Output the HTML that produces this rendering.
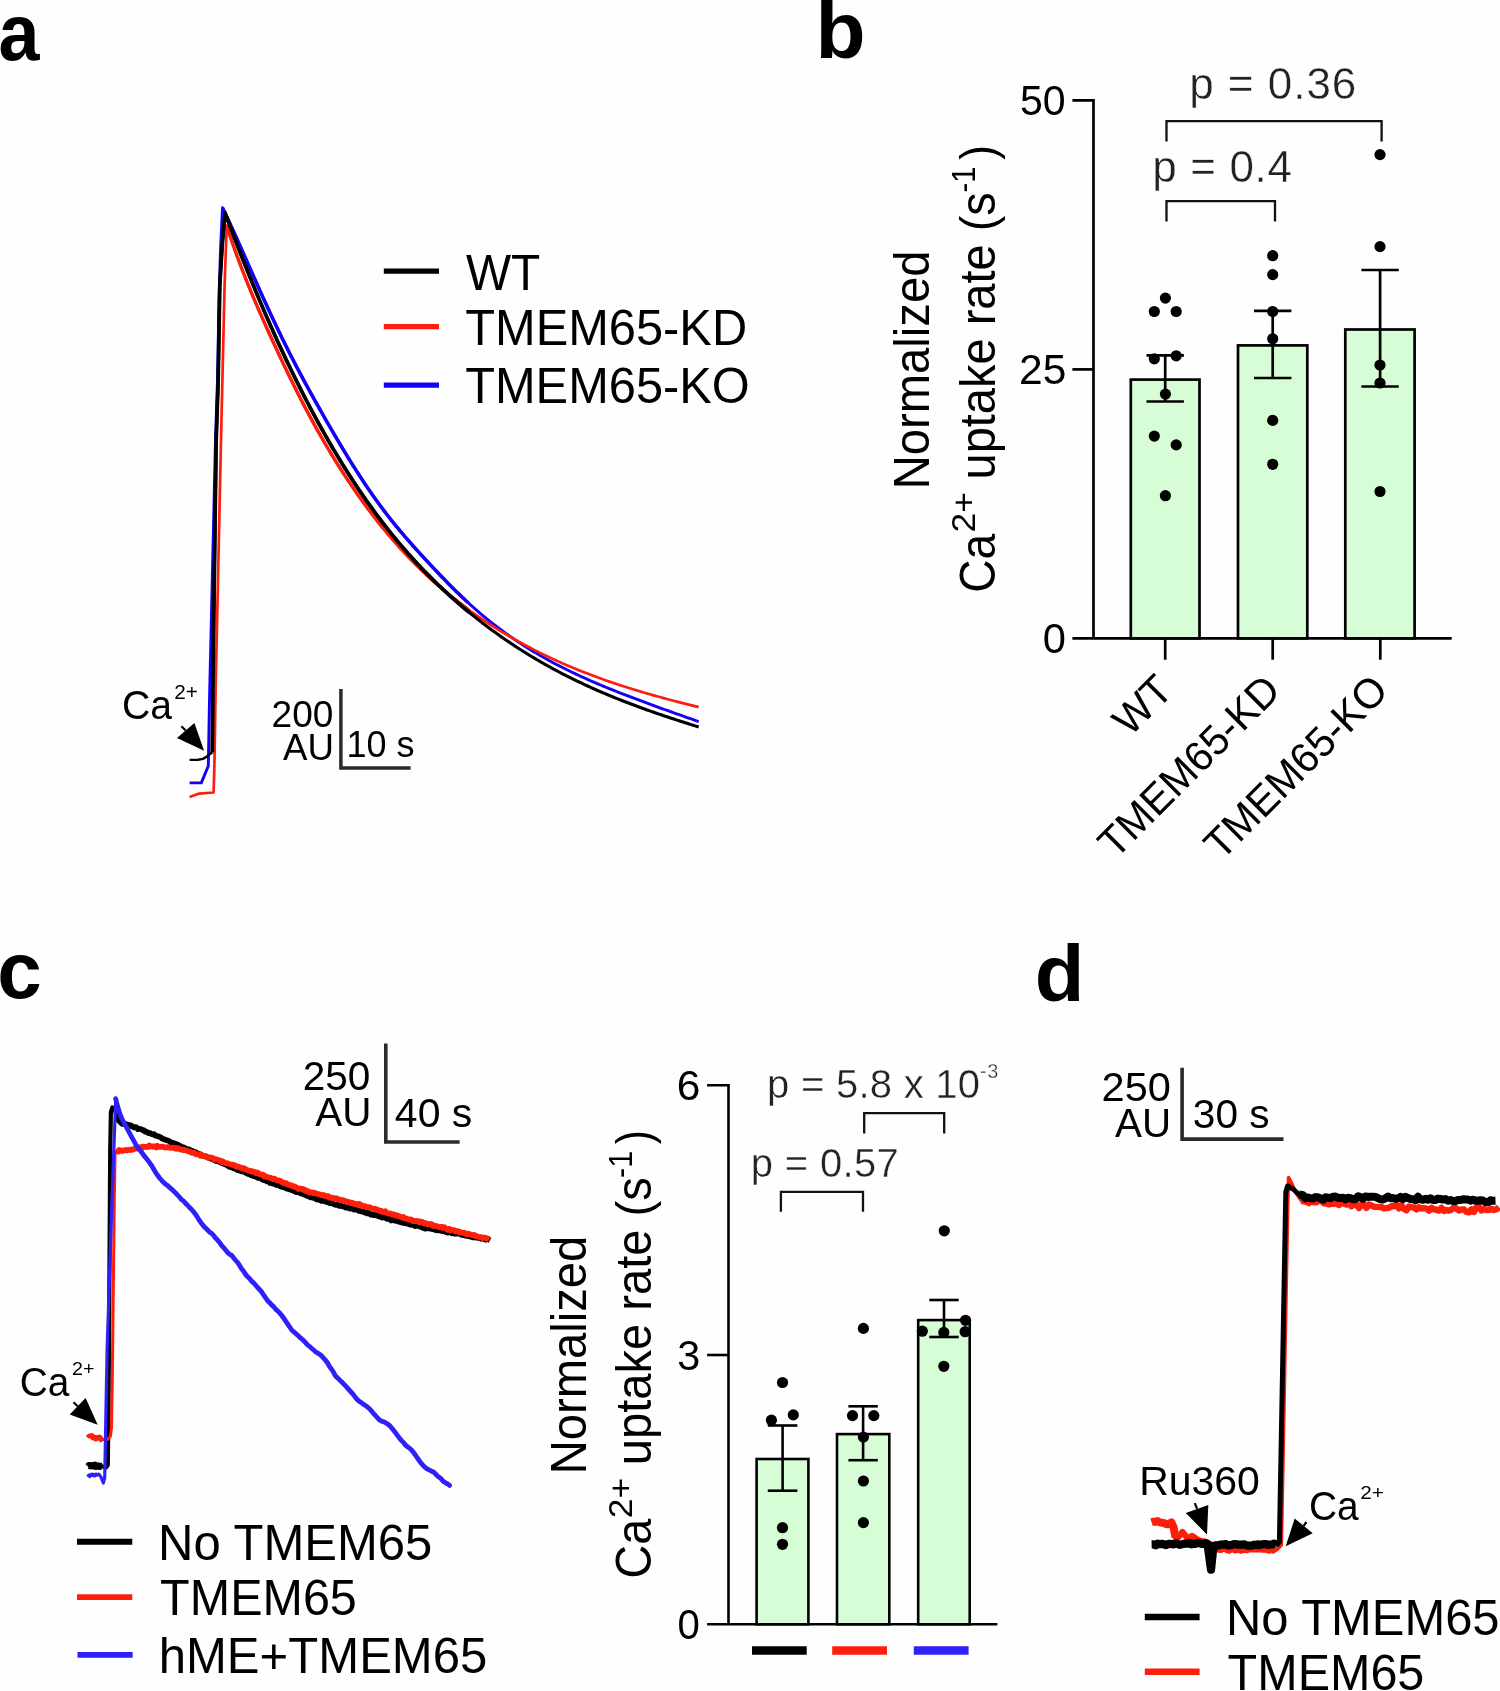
<!DOCTYPE html>
<html><head><meta charset="utf-8"><title>Figure</title>
<style>html,body{margin:0;padding:0;background:#fefefe;}body{width:1500px;height:1691px;overflow:hidden;}svg{display:block;will-change:transform;}</style>
</head><body>
<svg width="1500" height="1691" viewBox="0 0 1500 1691" font-family="'Liberation Sans', sans-serif">
<rect width="1500" height="1691" fill="#fefefe"/>
<text x="-1.46" y="60.2" font-size="80" fill="#000" font-weight="bold" textLength="40.99" lengthAdjust="spacingAndGlyphs" >a</text>
<text x="815.6" y="58.3" font-size="80" fill="#000" font-weight="bold" textLength="50.06" lengthAdjust="spacingAndGlyphs" >b</text>
<text x="-2.82" y="997.9" font-size="80" fill="#000" font-weight="bold" textLength="44.47" lengthAdjust="spacingAndGlyphs" >c</text>
<text x="1034.66" y="1000.9" font-size="80" fill="#000" font-weight="bold" textLength="49.7" lengthAdjust="spacingAndGlyphs" >d</text>
<path d="M189.6 782.9 L201.3 782.9 L208.3 766 L209.5 700 L212.3 578 L215.5 440 L217.5 380 L219 300 L220.5 250 L222.5 207.74 L224.5 211.92 L226.5 216.16 L228.5 220.45 L230.5 224.78 L232.5 229.15 L234.5 233.56 L236.5 238 L238.5 242.46 L240.5 246.94 L242.5 251.44 L244.5 255.95 L246.5 260.47 L248.5 264.99 L250.5 269.5 L252.5 274.02 L254.5 278.52 L256.5 283 L258.5 287.47 L260.5 291.91 L262.5 296.33 L264.5 300.73 L266.5 305.09 L268.5 309.43 L270.5 313.74 L272.5 318.02 L274.5 322.27 L276.5 326.48 L278.5 330.66 L280.5 334.81 L282.5 338.91 L284.5 342.98 L286.5 347.01 L288.5 351 L290.5 354.95 L292.5 358.86 L294.5 362.73 L296.5 366.57 L298.5 370.37 L300.5 374.14 L302.5 377.88 L304.5 381.6 L306.5 385.28 L308.5 388.94 L310.5 392.58 L312.5 396.19 L314.5 399.79 L316.5 403.37 L318.5 406.93 L320.5 410.47 L322.5 414 L324.5 417.52 L326.5 421.01 L328.5 424.5 L330.5 427.96 L332.5 431.41 L334.5 434.83 L336.5 438.23 L338.5 441.62 L340.5 444.98 L342.5 448.31 L344.5 451.63 L346.5 454.91 L348.5 458.17 L350.5 461.41 L352.5 464.61 L354.5 467.79 L356.5 470.93 L358.5 474.05 L360.5 477.13 L362.5 480.18 L364.5 483.2 L366.5 486.18 L368.5 489.13 L370.5 492.04 L372.5 494.92 L374.5 497.75 L376.5 500.55 L378.5 503.31 L380.5 506.03 L382.5 508.71 L384.5 511.35 L386.5 513.96 L388.5 516.53 L390.5 519.08 L392.5 521.59 L394.5 524.07 L396.5 526.52 L398.5 528.94 L400.5 531.34 L402.5 533.71 L404.5 536.06 L406.5 538.38 L408.5 540.68 L410.5 542.96 L412.5 545.22 L414.5 547.46 L416.5 549.69 L418.5 551.89 L420.5 554.09 L422.5 556.27 L424.5 558.43 L426.5 560.59 L428.5 562.73 L430.5 564.87 L432.5 567 L434.5 569.12 L436.5 571.23 L438.5 573.33 L440.5 575.42 L442.5 577.5 L444.5 579.57 L446.5 581.63 L448.5 583.67 L450.5 585.69 L452.5 587.7 L454.5 589.69 L456.5 591.66 L458.5 593.61 L460.5 595.54 L462.5 597.45 L464.5 599.34 L466.5 601.2 L468.5 603.04 L470.5 604.85 L472.5 606.65 L474.5 608.41 L476.5 610.16 L478.5 611.89 L480.5 613.59 L482.5 615.27 L484.5 616.93 L486.5 618.57 L488.5 620.18 L490.5 621.78 L492.5 623.36 L494.5 624.91 L496.5 626.45 L498.5 627.96 L500.5 629.46 L502.5 630.94 L504.5 632.4 L506.5 633.84 L508.5 635.26 L510.5 636.66 L512.5 638.04 L514.5 639.41 L516.5 640.76 L518.5 642.09 L520.5 643.41 L522.5 644.71 L524.5 645.99 L526.5 647.26 L528.5 648.51 L530.5 649.74 L532.5 650.96 L534.5 652.16 L536.5 653.35 L538.5 654.52 L540.5 655.68 L542.5 656.83 L544.5 657.96 L546.5 659.08 L548.5 660.18 L550.5 661.27 L552.5 662.35 L554.5 663.42 L556.5 664.47 L558.5 665.51 L560.5 666.54 L562.5 667.56 L564.5 668.56 L566.5 669.56 L568.5 670.54 L570.5 671.51 L572.5 672.48 L574.5 673.43 L576.5 674.37 L578.5 675.3 L580.5 676.23 L582.5 677.14 L584.5 678.04 L586.5 678.94 L588.5 679.83 L590.5 680.71 L592.5 681.58 L594.5 682.44 L596.5 683.3 L598.5 684.15 L600.5 684.99 L602.5 685.83 L604.5 686.66 L606.5 687.48 L608.5 688.3 L610.5 689.11 L612.5 689.92 L614.5 690.72 L616.5 691.51 L618.5 692.31 L620.5 693.09 L622.5 693.87 L624.5 694.65 L626.5 695.43 L628.5 696.19 L630.5 696.96 L632.5 697.72 L634.5 698.48 L636.5 699.23 L638.5 699.98 L640.5 700.73 L642.5 701.48 L644.5 702.22 L646.5 702.95 L648.5 703.69 L650.5 704.42 L652.5 705.15 L654.5 705.88 L656.5 706.61 L658.5 707.33 L660.5 708.05 L662.5 708.77 L664.5 709.49 L666.5 710.2 L668.5 710.92 L670.5 711.63 L672.5 712.34 L674.5 713.05 L676.5 713.76 L678.5 714.47 L680.5 715.18 L682.5 715.89 L684.5 716.59 L686.5 717.3 L688.5 718.01 L690.5 718.71 L692.5 719.42 L694.5 720.13 L696.5 720.84 L698.5 721.54 L698.7 721.61" fill="none" stroke="#1400fa" stroke-width="2.9" stroke-linejoin="round" stroke-linecap="butt" />
<path d="M222.5 207.74 L224.5 211.92 L226.5 216.16 L228.5 220.45 L230.5 224.78 L232.5 229.15 L234.5 233.56 L236.5 238 L238.5 242.46 L240.5 246.94 L242.5 251.44 L244.5 255.95 L246.5 260.47 L248.5 264.99 L250.5 269.5 L252.5 274.02 L254.5 278.52 L256.5 283 L258.5 287.47 L260.5 291.91 L262.5 296.33 L264.5 300.73 L266.5 305.09 L268.5 309.43 L270.5 313.74 L272.5 318.02 L274.5 322.27 L276.5 326.48 L278.5 330.66 L280.5 334.81 L282.5 338.91 L284.5 342.98 L286.5 347.01 L288.5 351 L290.5 354.95 L292.5 358.86 L294.5 362.73 L296.5 366.57 L298.5 370.37 L300.5 374.14 L302.5 377.88 L304.5 381.6 L306.5 385.28 L308.5 388.94 L310.5 392.58 L312.5 396.19 L314.5 399.79 L316.5 403.37 L318.5 406.93 L320.5 410.47 L322.5 414 L324.5 417.52 L326.5 421.01 L328.5 424.5 L330.5 427.96 L332.5 431.41 L334.5 434.83 L336.5 438.23 L338.5 441.62 L340.5 444.98 L342.5 448.31 L344.5 451.63 L346.5 454.91 L348.5 458.17 L350.5 461.41 L352.5 464.61 L354.5 467.79 L356.5 470.93 L358.5 474.05 L360.5 477.13 L362.5 480.18 L364.5 483.2 L366.5 486.18 L368.5 489.13 L370.5 492.04 L372.5 494.92 L374.5 497.75 L376.5 500.55 L378.5 503.31 L380.5 506.03 L382.5 508.71 L384.5 511.35 L386.5 513.96 L388.5 516.53 L390.5 519.08 L392.5 521.59 L394.5 524.07 L396.5 526.52 L398.5 528.94 L400.5 531.34 L402.5 533.71 L404.5 536.06 L406.5 538.38 L408.5 540.68 L410.5 542.96 L412.5 545.22 L414.5 547.46 L416.5 549.69 L418.5 551.89 L420.5 554.09 L422.5 556.27 L424.5 558.43 L426.5 560.59 L428.5 562.73 L430.5 564.87 L432.5 567 L434.5 569.12 L436.5 571.23 L438.5 573.33 L440.5 575.42 L442.5 577.5 L444.5 579.57 L446.5 581.63 L448.5 583.67 L450.5 585.69 L452.5 587.7 L454.5 589.69 L456.5 591.66 L458.5 593.61 L460.5 595.54 L462.5 597.45 L464.5 599.34 L466.5 601.2 L468.5 603.04" fill="none" stroke="#1400fa" stroke-width="3.5" stroke-linejoin="round" stroke-linecap="butt" />
<path d="M189.6 797 L195 795 L199.1 793.6 L213.6 792.5 L214.4 765 L215.6 690 L221 440 L222.4 380 L224.6 285 L226.7 225.72 L228.7 231.87 L230.7 237.87 L232.7 243.71 L234.7 249.42 L236.7 255 L238.7 260.45 L240.7 265.78 L242.7 271.01 L244.7 276.13 L246.7 281.16 L248.7 286.11 L250.7 290.97 L252.7 295.77 L254.7 300.49 L256.7 305.16 L258.7 309.77 L260.7 314.33 L262.7 318.85 L264.7 323.33 L266.7 327.79 L268.7 332.21 L270.7 336.62 L272.7 340.99 L274.7 345.34 L276.7 349.66 L278.7 353.94 L280.7 358.2 L282.7 362.43 L284.7 366.63 L286.7 370.79 L288.7 374.92 L290.7 379.02 L292.7 383.08 L294.7 387.11 L296.7 391.1 L298.7 395.06 L300.7 398.97 L302.7 402.85 L304.7 406.69 L306.7 410.49 L308.7 414.25 L310.7 417.97 L312.7 421.65 L314.7 425.29 L316.7 428.89 L318.7 432.45 L320.7 435.97 L322.7 439.45 L324.7 442.9 L326.7 446.31 L328.7 449.68 L330.7 453.02 L332.7 456.31 L334.7 459.57 L336.7 462.8 L338.7 465.98 L340.7 469.14 L342.7 472.25 L344.7 475.34 L346.7 478.38 L348.7 481.4 L350.7 484.37 L352.7 487.32 L354.7 490.23 L356.7 493.1 L358.7 495.95 L360.7 498.76 L362.7 501.54 L364.7 504.28 L366.7 507 L368.7 509.68 L370.7 512.33 L372.7 514.95 L374.7 517.54 L376.7 520.1 L378.7 522.63 L380.7 525.13 L382.7 527.59 L384.7 530.03 L386.7 532.44 L388.7 534.82 L390.7 537.18 L392.7 539.5 L394.7 541.8 L396.7 544.07 L398.7 546.31 L400.7 548.52 L402.7 550.71 L404.7 552.87 L406.7 555.01 L408.7 557.12 L410.7 559.2 L412.7 561.26 L414.7 563.29 L416.7 565.3 L418.7 567.28 L420.7 569.24 L422.7 571.18 L424.7 573.09 L426.7 574.98 L428.7 576.85 L430.7 578.69 L432.7 580.51 L434.7 582.31 L436.7 584.09 L438.7 585.84 L440.7 587.57 L442.7 589.29 L444.7 590.98 L446.7 592.65 L448.7 594.3 L450.7 595.93 L452.7 597.55 L454.7 599.14 L456.7 600.71 L458.7 602.27 L460.7 603.8 L462.7 605.32 L464.7 606.82 L466.7 608.31 L468.7 609.77 L470.7 611.22 L472.7 612.65 L474.7 614.07 L476.7 615.47 L478.7 616.85 L480.7 618.22 L482.7 619.57 L484.7 620.91 L486.7 622.24 L488.7 623.54 L490.7 624.84 L492.7 626.12 L494.7 627.39 L496.7 628.64 L498.7 629.88 L500.7 631.11 L502.7 632.33 L504.7 633.53 L506.7 634.72 L508.7 635.9 L510.7 637.07 L512.7 638.22 L514.7 639.36 L516.7 640.49 L518.7 641.61 L520.7 642.72 L522.7 643.81 L524.7 644.89 L526.7 645.96 L528.7 647.02 L530.7 648.07 L532.7 649.11 L534.7 650.14 L536.7 651.15 L538.7 652.16 L540.7 653.15 L542.7 654.13 L544.7 655.11 L546.7 656.07 L548.7 657.02 L550.7 657.96 L552.7 658.9 L554.7 659.82 L556.7 660.73 L558.7 661.63 L560.7 662.53 L562.7 663.41 L564.7 664.28 L566.7 665.15 L568.7 666 L570.7 666.85 L572.7 667.69 L574.7 668.52 L576.7 669.34 L578.7 670.15 L580.7 670.95 L582.7 671.74 L584.7 672.53 L586.7 673.31 L588.7 674.08 L590.7 674.84 L592.7 675.59 L594.7 676.34 L596.7 677.08 L598.7 677.81 L600.7 678.53 L602.7 679.25 L604.7 679.96 L606.7 680.66 L608.7 681.35 L610.7 682.04 L612.7 682.72 L614.7 683.4 L616.7 684.06 L618.7 684.72 L620.7 685.38 L622.7 686.03 L624.7 686.67 L626.7 687.31 L628.7 687.94 L630.7 688.56 L632.7 689.18 L634.7 689.79 L636.7 690.4 L638.7 691 L640.7 691.6 L642.7 692.19 L644.7 692.78 L646.7 693.36 L648.7 693.94 L650.7 694.51 L652.7 695.08 L654.7 695.64 L656.7 696.2 L658.7 696.76 L660.7 697.31 L662.7 697.85 L664.7 698.4 L666.7 698.94 L668.7 699.47 L670.7 700 L672.7 700.53 L674.7 701.05 L676.7 701.57 L678.7 702.09 L680.7 702.61 L682.7 703.12 L684.7 703.63 L686.7 704.13 L688.7 704.63 L690.7 705.14 L692.7 705.63 L694.7 706.13 L696.7 706.62 L698.7 707.11 L698.7 707.11" fill="none" stroke="#fc1e0f" stroke-width="2.7" stroke-linejoin="round" stroke-linecap="butt" />
<path d="M226.7 225.72 L228.7 231.87 L230.7 237.87 L232.7 243.71 L234.7 249.42 L236.7 255 L238.7 260.45 L240.7 265.78 L242.7 271.01 L244.7 276.13 L246.7 281.16 L248.7 286.11 L250.7 290.97 L252.7 295.77 L254.7 300.49 L256.7 305.16 L258.7 309.77 L260.7 314.33 L262.7 318.85 L264.7 323.33 L266.7 327.79 L268.7 332.21 L270.7 336.62 L272.7 340.99 L274.7 345.34 L276.7 349.66 L278.7 353.94 L280.7 358.2 L282.7 362.43 L284.7 366.63 L286.7 370.79 L288.7 374.92 L290.7 379.02 L292.7 383.08 L294.7 387.11 L296.7 391.1 L298.7 395.06 L300.7 398.97 L302.7 402.85 L304.7 406.69 L306.7 410.49 L308.7 414.25 L310.7 417.97 L312.7 421.65 L314.7 425.29 L316.7 428.89 L318.7 432.45 L320.7 435.97 L322.7 439.45 L324.7 442.9 L326.7 446.31 L328.7 449.68 L330.7 453.02 L332.7 456.31 L334.7 459.57 L336.7 462.8 L338.7 465.98 L340.7 469.14 L342.7 472.25 L344.7 475.34 L346.7 478.38 L348.7 481.4 L350.7 484.37 L352.7 487.32 L354.7 490.23 L356.7 493.1 L358.7 495.95 L360.7 498.76 L362.7 501.54 L364.7 504.28 L366.7 507 L368.7 509.68 L370.7 512.33 L372.7 514.95 L374.7 517.54 L376.7 520.1 L378.7 522.63 L380.7 525.13 L382.7 527.59 L384.7 530.03 L386.7 532.44 L388.7 534.82 L390.7 537.18 L392.7 539.5 L394.7 541.8 L396.7 544.07 L398.7 546.31 L400.7 548.52 L402.7 550.71 L404.7 552.87 L406.7 555.01 L408.7 557.12 L410.7 559.2 L412.7 561.26 L414.7 563.29 L416.7 565.3 L418.7 567.28 L420.7 569.24 L422.7 571.18 L424.7 573.09 L426.7 574.98 L428.7 576.85 L430.7 578.69 L432.7 580.51 L434.7 582.31 L436.7 584.09 L438.7 585.84 L440.7 587.57 L442.7 589.29 L444.7 590.98 L446.7 592.65 L448.7 594.3 L450.7 595.93 L452.7 597.55 L454.7 599.14 L456.7 600.71 L458.7 602.27 L460.7 603.8 L462.7 605.32 L464.7 606.82 L466.7 608.31 L468.7 609.77" fill="none" stroke="#fc1e0f" stroke-width="3.4" stroke-linejoin="round" stroke-linecap="butt" />
<path d="M189.6 759.9 L198 759.7 L203 758.9 L207 756.5 L210 754 L212.3 752.3" fill="none" stroke="#000" stroke-width="2.4" stroke-linejoin="round" stroke-linecap="butt" />
<path d="M212.3 752.3 L212.8 690 L216.2 440 L218.2 380 L219.8 285 L222.4 242.6 L225.1 212.88 L227.1 218.29 L229.1 223.65 L231.1 228.97 L233.1 234.25 L235.1 239.49 L237.1 244.68 L239.1 249.84 L241.1 254.95 L243.1 260.02 L245.1 265.06 L247.1 270.05 L249.1 275 L251.1 279.91 L253.1 284.78 L255.1 289.61 L257.1 294.4 L259.1 299.15 L261.1 303.86 L263.1 308.53 L265.1 313.17 L267.1 317.76 L269.1 322.32 L271.1 326.84 L273.1 331.32 L275.1 335.76 L277.1 340.16 L279.1 344.53 L281.1 348.85 L283.1 353.14 L285.1 357.4 L287.1 361.61 L289.1 365.79 L291.1 369.94 L293.1 374.04 L295.1 378.11 L297.1 382.14 L299.1 386.14 L301.1 390.1 L303.1 394.03 L305.1 397.92 L307.1 401.77 L309.1 405.59 L311.1 409.37 L313.1 413.12 L315.1 416.83 L317.1 420.51 L319.1 424.15 L321.1 427.76 L323.1 431.34 L325.1 434.88 L327.1 438.38 L329.1 441.85 L331.1 445.29 L333.1 448.7 L335.1 452.07 L337.1 455.4 L339.1 458.7 L341.1 461.97 L343.1 465.21 L345.1 468.42 L347.1 471.59 L349.1 474.72 L351.1 477.83 L353.1 480.9 L355.1 483.94 L357.1 486.95 L359.1 489.93 L361.1 492.87 L363.1 495.79 L365.1 498.67 L367.1 501.52 L369.1 504.34 L371.1 507.12 L373.1 509.88 L375.1 512.61 L377.1 515.31 L379.1 517.97 L381.1 520.61 L383.1 523.22 L385.1 525.8 L387.1 528.35 L389.1 530.87 L391.1 533.37 L393.1 535.84 L395.1 538.28 L397.1 540.69 L399.1 543.08 L401.1 545.44 L403.1 547.78 L405.1 550.08 L407.1 552.37 L409.1 554.63 L411.1 556.86 L413.1 559.07 L415.1 561.26 L417.1 563.42 L419.1 565.56 L421.1 567.67 L423.1 569.77 L425.1 571.84 L427.1 573.88 L429.1 575.91 L431.1 577.91 L433.1 579.9 L435.1 581.86 L437.1 583.8 L439.1 585.72 L441.1 587.62 L443.1 589.5 L445.1 591.36 L447.1 593.2 L449.1 595.03 L451.1 596.83 L453.1 598.62 L455.1 600.39 L457.1 602.14 L459.1 603.87 L461.1 605.59 L463.1 607.29 L465.1 608.97 L467.1 610.64 L469.1 612.29 L471.1 613.93 L473.1 615.55 L475.1 617.15 L477.1 618.74 L479.1 620.31 L481.1 621.87 L483.1 623.41 L485.1 624.94 L487.1 626.46 L489.1 627.95 L491.1 629.44 L493.1 630.91 L495.1 632.36 L497.1 633.8 L499.1 635.23 L501.1 636.64 L503.1 638.04 L505.1 639.42 L507.1 640.79 L509.1 642.15 L511.1 643.49 L513.1 644.82 L515.1 646.14 L517.1 647.44 L519.1 648.73 L521.1 650.01 L523.1 651.27 L525.1 652.52 L527.1 653.76 L529.1 654.99 L531.1 656.21 L533.1 657.41 L535.1 658.6 L537.1 659.78 L539.1 660.95 L541.1 662.1 L543.1 663.25 L545.1 664.38 L547.1 665.5 L549.1 666.61 L551.1 667.71 L553.1 668.8 L555.1 669.88 L557.1 670.95 L559.1 672 L561.1 673.05 L563.1 674.09 L565.1 675.11 L567.1 676.13 L569.1 677.14 L571.1 678.13 L573.1 679.12 L575.1 680.09 L577.1 681.06 L579.1 682.02 L581.1 682.97 L583.1 683.91 L585.1 684.84 L587.1 685.76 L589.1 686.68 L591.1 687.58 L593.1 688.48 L595.1 689.37 L597.1 690.25 L599.1 691.12 L601.1 691.98 L603.1 692.84 L605.1 693.69 L607.1 694.53 L609.1 695.36 L611.1 696.19 L613.1 697.01 L615.1 697.82 L617.1 698.62 L619.1 699.42 L621.1 700.21 L623.1 701 L625.1 701.77 L627.1 702.55 L629.1 703.31 L631.1 704.07 L633.1 704.82 L635.1 705.57 L637.1 706.31 L639.1 707.05 L641.1 707.78 L643.1 708.5 L645.1 709.22 L647.1 709.94 L649.1 710.65 L651.1 711.35 L653.1 712.05 L655.1 712.75 L657.1 713.44 L659.1 714.13 L661.1 714.81 L663.1 715.49 L665.1 716.16 L667.1 716.83 L669.1 717.5 L671.1 718.16 L673.1 718.82 L675.1 719.47 L677.1 720.13 L679.1 720.78 L681.1 721.42 L683.1 722.06 L685.1 722.7 L687.1 723.34 L689.1 723.98 L691.1 724.61 L693.1 725.24 L695.1 725.87 L697.1 726.49 L698.7 726.99" fill="none" stroke="#000" stroke-width="3.1" stroke-linejoin="round" stroke-linecap="butt" />
<path d="M212.3 752.3 L212.8 690 L216.2 440 L218.2 380 L219.8 285 L222.4 242.6 L225.1 212.88 L227.1 218.29 L229.1 223.65 L231.1 228.97 L233.1 234.25 L235.1 239.49 L237.1 244.68 L239.1 249.84 L241.1 254.95 L243.1 260.02 L245.1 265.06 L247.1 270.05 L249.1 275 L251.1 279.91 L253.1 284.78 L255.1 289.61 L257.1 294.4 L259.1 299.15 L261.1 303.86 L263.1 308.53 L265.1 313.17 L267.1 317.76 L269.1 322.32 L271.1 326.84 L273.1 331.32 L275.1 335.76 L277.1 340.16 L279.1 344.53 L281.1 348.85 L283.1 353.14 L285.1 357.4 L287.1 361.61 L289.1 365.79 L291.1 369.94 L293.1 374.04 L295.1 378.11 L297.1 382.14 L299.1 386.14 L301.1 390.1 L303.1 394.03 L305.1 397.92 L307.1 401.77 L309.1 405.59 L311.1 409.37 L313.1 413.12 L315.1 416.83 L317.1 420.51 L319.1 424.15 L321.1 427.76 L323.1 431.34 L325.1 434.88 L327.1 438.38 L329.1 441.85 L331.1 445.29 L333.1 448.7 L335.1 452.07 L337.1 455.4 L339.1 458.7 L341.1 461.97 L343.1 465.21 L345.1 468.42 L347.1 471.59 L349.1 474.72 L351.1 477.83 L353.1 480.9 L355.1 483.94 L357.1 486.95 L359.1 489.93 L361.1 492.87 L363.1 495.79 L365.1 498.67 L367.1 501.52 L369.1 504.34 L371.1 507.12 L373.1 509.88 L375.1 512.61 L377.1 515.31 L379.1 517.97 L381.1 520.61 L383.1 523.22 L385.1 525.8 L387.1 528.35 L389.1 530.87 L391.1 533.37 L393.1 535.84 L395.1 538.28 L397.1 540.69 L399.1 543.08 L401.1 545.44 L403.1 547.78 L405.1 550.08 L407.1 552.37 L409.1 554.63 L411.1 556.86 L413.1 559.07 L415.1 561.26 L417.1 563.42 L419.1 565.56 L421.1 567.67 L423.1 569.77 L425.1 571.84 L427.1 573.88 L429.1 575.91 L431.1 577.91 L433.1 579.9 L435.1 581.86 L437.1 583.8 L439.1 585.72 L441.1 587.62 L443.1 589.5 L445.1 591.36 L447.1 593.2 L449.1 595.03 L451.1 596.83 L453.1 598.62 L455.1 600.39 L457.1 602.14 L459.1 603.87 L461.1 605.59 L463.1 607.29 L465.1 608.97 L467.1 610.64 L469.1 612.29" fill="none" stroke="#000" stroke-width="3.7" stroke-linejoin="round" stroke-linecap="butt" />
<line x1="383.8" y1="271.1" x2="439" y2="271.1" stroke="#000" stroke-width="5.2" stroke-linecap="butt"/>
<line x1="383.8" y1="326.6" x2="439" y2="326.6" stroke="#fc1e0f" stroke-width="5.2" stroke-linecap="butt"/>
<line x1="383.8" y1="385.2" x2="439" y2="385.2" stroke="#1400fa" stroke-width="5.2" stroke-linecap="butt"/>
<text x="465.89" y="290.1" font-size="50" fill="#000" textLength="74.31" lengthAdjust="spacingAndGlyphs" >WT</text>
<text x="465.2" y="344.6" font-size="50" fill="#000" textLength="281.93" lengthAdjust="spacingAndGlyphs" >TMEM65-KD</text>
<text x="465.2" y="402.6" font-size="50" fill="#000" textLength="284.53" lengthAdjust="spacingAndGlyphs" >TMEM65-KO</text>
<text x="122.01" y="719.3" font-size="40.5" fill="#000" textLength="49.99" lengthAdjust="spacingAndGlyphs" >Ca</text>
<text x="174.16" y="698.9" font-size="20.5" fill="#000" textLength="23.67" lengthAdjust="spacingAndGlyphs" >2+</text>
<line x1="181.4" y1="726.3" x2="185.7" y2="730.55" stroke="#000" stroke-width="2.2" stroke-linecap="butt"/>
<polygon points="204.1,750.8 177,738.1 194.4,723" fill="#000"/>
<path d="M340.9 689.1 L340.9 768 L410.6 768" fill="none" stroke="#2a2a2a" stroke-width="3.5"/>
<text x="271.64" y="727.1" font-size="37" fill="#000" textLength="61.81" lengthAdjust="spacingAndGlyphs" >200</text>
<text x="283.03" y="760.2" font-size="37" fill="#000" textLength="50.9" lengthAdjust="spacingAndGlyphs" >AU</text>
<text x="346.56" y="757.2" font-size="37" fill="#000" textLength="68.04" lengthAdjust="spacingAndGlyphs" >10 s</text>
<rect x="1130.8" y="379.6" width="68.7" height="258.8" fill="#d6fdd6" stroke="#000" stroke-width="2.7"/>
<rect x="1238" y="345.4" width="69.3" height="293" fill="#d6fdd6" stroke="#000" stroke-width="2.7"/>
<rect x="1345.3" y="329.5" width="69.3" height="308.9" fill="#d6fdd6" stroke="#000" stroke-width="2.7"/>
<path d="M1072.4 100.3 H1093.5 V638.4" fill="none" stroke="#000" stroke-width="2.7"/>
<line x1="1072.4" y1="369.4" x2="1093.5" y2="369.4" stroke="#000" stroke-width="2.7" stroke-linecap="butt"/>
<line x1="1072.4" y1="638.4" x2="1451.7" y2="638.4" stroke="#000" stroke-width="2.7" stroke-linecap="butt"/>
<line x1="1165.2" y1="638.4" x2="1165.2" y2="659.7" stroke="#000" stroke-width="2.7" stroke-linecap="butt"/>
<line x1="1272.7" y1="638.4" x2="1272.7" y2="659.7" stroke="#000" stroke-width="2.7" stroke-linecap="butt"/>
<line x1="1380.3" y1="638.4" x2="1380.3" y2="659.7" stroke="#000" stroke-width="2.7" stroke-linecap="butt"/>
<line x1="1165.2" y1="355.4" x2="1165.2" y2="401.5" stroke="#000" stroke-width="2.7" stroke-linecap="butt"/>
<line x1="1146.5" y1="355.4" x2="1183.9" y2="355.4" stroke="#000" stroke-width="2.7" stroke-linecap="butt"/>
<line x1="1146.5" y1="401.5" x2="1183.9" y2="401.5" stroke="#000" stroke-width="2.7" stroke-linecap="butt"/>
<line x1="1272.7" y1="310.8" x2="1272.7" y2="378" stroke="#000" stroke-width="2.7" stroke-linecap="butt"/>
<line x1="1254" y1="310.8" x2="1291.4" y2="310.8" stroke="#000" stroke-width="2.7" stroke-linecap="butt"/>
<line x1="1254" y1="378" x2="1291.4" y2="378" stroke="#000" stroke-width="2.7" stroke-linecap="butt"/>
<line x1="1380.1" y1="270" x2="1380.1" y2="386.5" stroke="#000" stroke-width="2.7" stroke-linecap="butt"/>
<line x1="1361.4" y1="270" x2="1398.8" y2="270" stroke="#000" stroke-width="2.7" stroke-linecap="butt"/>
<line x1="1361.4" y1="386.5" x2="1398.8" y2="386.5" stroke="#000" stroke-width="2.7" stroke-linecap="butt"/>
<circle cx="1165.4" cy="298.1" r="5.6" fill="#000"/>
<circle cx="1154.3" cy="311.5" r="5.6" fill="#000"/>
<circle cx="1176.2" cy="311.5" r="5.6" fill="#000"/>
<circle cx="1154.3" cy="358.8" r="5.6" fill="#000"/>
<circle cx="1176.2" cy="355.8" r="5.6" fill="#000"/>
<circle cx="1165.4" cy="394.1" r="5.6" fill="#000"/>
<circle cx="1154.3" cy="436.1" r="5.6" fill="#000"/>
<circle cx="1176.2" cy="444.9" r="5.6" fill="#000"/>
<circle cx="1165.4" cy="495.7" r="5.6" fill="#000"/>
<circle cx="1272.7" cy="255.7" r="5.6" fill="#000"/>
<circle cx="1272.7" cy="274.6" r="5.6" fill="#000"/>
<circle cx="1272.7" cy="311.5" r="5.6" fill="#000"/>
<circle cx="1272.7" cy="338.8" r="5.6" fill="#000"/>
<circle cx="1272.7" cy="420.4" r="5.6" fill="#000"/>
<circle cx="1272.7" cy="464.3" r="5.6" fill="#000"/>
<circle cx="1380" cy="154.6" r="5.6" fill="#000"/>
<circle cx="1380" cy="246.6" r="5.6" fill="#000"/>
<circle cx="1380" cy="365" r="5.6" fill="#000"/>
<circle cx="1380" cy="383" r="5.6" fill="#000"/>
<circle cx="1380" cy="491.5" r="5.6" fill="#000"/>
<text x="1020.06" y="114.7" font-size="42" fill="#000" textLength="45.65" lengthAdjust="spacingAndGlyphs" >50</text>
<text x="1019.06" y="383.8" font-size="42" fill="#000" textLength="47.33" lengthAdjust="spacingAndGlyphs" >25</text>
<text x="1042.67" y="652.9" font-size="42" fill="#000" textLength="23.15" lengthAdjust="spacingAndGlyphs" >0</text>
<text x="1189.16" y="99.4" font-size="44" fill="#222222" textLength="167.17" lengthAdjust="spacing" stroke="#fefefe" stroke-width="0.4">p = 0.36</text>
<text x="1152.16" y="182" font-size="44" fill="#222222" textLength="139.72" lengthAdjust="spacing" stroke="#fefefe" stroke-width="0.4">p = 0.4</text>
<path d="M1166.5 141.5 V121.2 H1381.6 V141.5" fill="none" stroke="#111" stroke-width="2.3"/>
<path d="M1166.5 221.5 V201.1 H1275 V221.5" fill="none" stroke="#111" stroke-width="2.3"/>
<text transform="translate(0 0) rotate(-90)" x="-489.27" y="929.2" font-size="50.5" fill="#000" textLength="238.71" lengthAdjust="spacingAndGlyphs" >Normalized</text>
<text transform="translate(0 0) rotate(-90)" x="-592.75" y="994.5" font-size="50.5" fill="#000" textLength="59.05" lengthAdjust="spacingAndGlyphs" >Ca</text>
<text transform="translate(0 0) rotate(-90)" x="-532.58" y="974.5" font-size="34" fill="#000" textLength="40.43" lengthAdjust="spacingAndGlyphs" >2+</text>
<text transform="translate(0 0) rotate(-90)" x="-479.45" y="994.5" font-size="50.5" fill="#000" textLength="287.25" lengthAdjust="spacingAndGlyphs" >uptake rate (s</text>
<text transform="translate(0 0) rotate(-90)" x="-192.4" y="975" font-size="34" fill="#000" textLength="25.92" lengthAdjust="spacingAndGlyphs" >-1</text>
<text transform="translate(0 0) rotate(-90)" x="-159.66" y="994.5" font-size="50.5" fill="#000" textLength="14.82" lengthAdjust="spacingAndGlyphs" >)</text>
<text transform="translate(1175 692.6) rotate(-45)" x="-63.66" y="0" font-size="42" textLength="63.66" lengthAdjust="spacingAndGlyphs" fill="#000">WT</text>
<text transform="translate(1282.7 692.6) rotate(-45)" x="-236.62" y="0" font-size="42" textLength="236.62" lengthAdjust="spacingAndGlyphs" fill="#000">TMEM65-KD</text>
<text transform="translate(1390.3 692.6) rotate(-45)" x="-238.9" y="0" font-size="42" textLength="238.9" lengthAdjust="spacingAndGlyphs" fill="#000">TMEM65-KO</text>
<path d="M87.9 1466.45 L88.9 1465.42 L89.9 1465.73 L90.9 1465.97 L91.9 1465.43 L92.9 1465.88 L93.9 1465.93 L94.9 1465.11 L95.9 1466.55 L96.9 1466.4 L97.9 1465.84 L98.9 1466.12 L99.9 1466.51 L100.9 1466.19 L101.9 1466.25" fill="none" stroke="#000" stroke-width="7" stroke-linejoin="round" stroke-linecap="butt" />
<path d="M102.4 1466.4 L106 1467.5 L107.8 1465 L108.6 1400 L110.2 1150 L110.9 1112 L112.4 1107.5 L114.8 1109.5 L117 1117.5" fill="none" stroke="#000" stroke-width="4.2" stroke-linejoin="round" stroke-linecap="round" />
<path d="M117 1117.7 L118 1119.42 L119 1120.63 L120 1121.57 L121 1122.85 L122 1123.81 L123 1123.37 L124 1123.34 L125 1124.48 L126 1124.22 L127 1124.5 L128 1124.89 L129 1125.12 L130 1125.43 L131 1125.41 L132 1126.46 L133 1126.62 L134 1127.44 L135 1127.27 L136 1127.11 L137 1128.11 L138 1129.12 L139 1128.76 L140 1128.96 L141 1129.24 L142 1129.67 L143 1130.32 L144 1130.39 L145 1131.71 L146 1131.47 L147 1131.99 L148 1132.85 L149 1133.26 L150 1133.06 L151 1133.65 L152 1134.19 L153 1134.26 L154 1134.1 L155 1135.36 L156 1135.86 L157 1136.11 L158 1136.06 L159 1136.74 L160 1137.02 L161 1137.54 L162 1138.53 L163 1139.05 L164 1139.19 L165 1139.58 L166 1140.06 L167 1140.26 L168 1140.67 L169 1140.91 L170 1141.56 L171 1142.81 L172 1142.77 L173 1142.78 L174 1143.18 L175 1143.48 L176 1144.35 L177 1144.78 L178 1144.57 L179 1145.68 L180 1145.74 L181 1146.87 L182 1146.85 L183 1147.81 L184 1147.47 L185 1147.95 L186 1148.57 L187 1149.25 L188 1149.5 L189 1149.28 L190 1150.19 L191 1150.55 L192 1150.8 L193 1151.14 L194 1152.39 L195 1152.05 L196 1152.3 L197 1153.23 L198 1153.46 L199 1153.8 L200 1154.51 L201 1154.81 L202 1155.18 L203 1155.8 L204 1155.97 L205 1156.06 L206 1156.56 L207 1156.91 L208 1157.57 L209 1157.53 L210 1157.68 L211 1158.76 L212 1158.67 L213 1158.87 L214 1160.09 L215 1160.12 L216 1160.95 L217 1161 L218 1161.21 L219 1161.57 L220 1162.24 L221 1162.73 L222 1162.95 L223 1163.55 L224 1163.52 L225 1164.47 L226 1164.24 L227 1165.21 L228 1165.93 L229 1166.47 L230 1167.09 L231 1166.36 L232 1167.57 L233 1168.12 L234 1168.44 L235 1168.18 L236 1169.05 L237 1169.95 L238 1169.18 L239 1170.27 L240 1170.89 L241 1170.65 L242 1171.49 L243 1171.31 L244 1171.79 L245 1172.18 L246 1172.93 L247 1173.22 L248 1173.98 L249 1173.71 L250 1174.39 L251 1175.16 L252 1175.41 L253 1175.14 L254 1176.23 L255 1176.22 L256 1176.91 L257 1177.27 L258 1177.98 L259 1177.98 L260 1177.68 L261 1178.24 L262 1179.36 L263 1179.4 L264 1180.28 L265 1180.36 L266 1180.39 L267 1181.42 L268 1181.14 L269 1181.09 L270 1182.92 L271 1181.91 L272 1183.18 L273 1183.67 L274 1183.77 L275 1183.51 L276 1184.84 L277 1184.36 L278 1184.77 L279 1185.49 L280 1186.28 L281 1186.47 L282 1187.02 L283 1186.94 L284 1187.41 L285 1187.43 L286 1188.09 L287 1188.76 L288 1188.8 L289 1189.42 L290 1189.4 L291 1189.74 L292 1190.3 L293 1190.55 L294 1191.16 L295 1191.35 L296 1192.24 L297 1191.9 L298 1192.24 L299 1192.29 L300 1193.01 L301 1193.6 L302 1193.47 L303 1194.08 L304 1194.71 L305 1194.79 L306 1195.03 L307 1195.93 L308 1196 L309 1196.48 L310 1197.1 L311 1197.45 L312 1197.28 L313 1197.57 L314 1198.2 L315 1198.37 L316 1198.07 L317 1199.5 L318 1199.37 L319 1199.94 L320 1199.59 L321 1200.74 L322 1200.37 L323 1200.83 L324 1200.66 L325 1201.38 L326 1201.65 L327 1201.96 L328 1202.46 L329 1202.61 L330 1203.21 L331 1202.98 L332 1203.07 L333 1203.68 L334 1204.18 L335 1204.68 L336 1204.8 L337 1204.17 L338 1205.2 L339 1205.85 L340 1205.63 L341 1205.7 L342 1206.25 L343 1206.24 L344 1206.91 L345 1206.95 L346 1207.71 L347 1207.67 L348 1207.51 L349 1208.25 L350 1208.63 L351 1208.37 L352 1208.69 L353 1208.31 L354 1209.7 L355 1209.45 L356 1209.18 L357 1209.57 L358 1210.38 L359 1211 L360 1210.97 L361 1211.44 L362 1211.16 L363 1211.35 L364 1212.41 L365 1212.55 L366 1212.64 L367 1213.37 L368 1212.87 L369 1213.33 L370 1214.11 L371 1214.67 L372 1214.3 L373 1215.16 L374 1214.64 L375 1215.24 L376 1215.34 L377 1215.12 L378 1216.04 L379 1216.55 L380 1216.45 L381 1216.75 L382 1217.54 L383 1216.89 L384 1217.08 L385 1217.65 L386 1217.73 L387 1218.89 L388 1218.8 L389 1218.65 L390 1219.01 L391 1220.5 L392 1219.55 L393 1219.76 L394 1220.41 L395 1220.79 L396 1220.91 L397 1220.79 L398 1220.97 L399 1221.84 L400 1221.86 L401 1221.56 L402 1222.79 L403 1222.91 L404 1222.8 L405 1223.05 L406 1223.47 L407 1223.4 L408 1223.42 L409 1224.26 L410 1223.9 L411 1224.76 L412 1224.35 L413 1225.04 L414 1225.25 L415 1226.15 L416 1225.38 L417 1225.48 L418 1225.98 L419 1226.03 L420 1226.45 L421 1227.02 L422 1227.34 L423 1227.86 L424 1227.22 L425 1228.6 L426 1228.58 L427 1228.01 L428 1227.49 L429 1228.46 L430 1228.72 L431 1228.09 L432 1229.11 L433 1229.2 L434 1229.18 L435 1229.87 L436 1230.19 L437 1229.86 L438 1230.3 L439 1230.18 L440 1230.32 L441 1230.81 L442 1231.16 L443 1230.97 L444 1230.58 L445 1231.75 L446 1231.18 L447 1231.97 L448 1232.74 L449 1232.3 L450 1232.08 L451 1232.18 L452 1233.29 L453 1233.07 L454 1233.45 L455 1233.78 L456 1233.63 L457 1233.73 L458 1233.7 L459 1233.14 L460 1233.88 L461 1234.58 L462 1234.73 L463 1235.12 L464 1235.12 L465 1235.41 L466 1235.82 L467 1235.42 L468 1235.81 L469 1235.54 L470 1236.63 L471 1236.49 L472 1236.83 L473 1237.39 L474 1237.41 L475 1237.2 L476 1237.68 L477 1237.09 L478 1237.93 L479 1238.01 L480 1237.58 L481 1238.8 L482 1238.27 L483 1238.94 L484 1238.74 L485 1239.42 L486 1239.72 L487 1239.15 L488 1239.09 L489 1239.77 L490 1240.3" fill="none" stroke="#000" stroke-width="5.7" stroke-linejoin="round" stroke-linecap="butt" />
<path d="M87.9 1434.18 L88.9 1435.91 L89.9 1435.93 L90.9 1436.36 L91.9 1435.43 L92.9 1437.98 L93.9 1437.25 L94.9 1437.2 L95.9 1439.15 L96.9 1437.95 L97.9 1437.22 L98.9 1438.2 L99.9 1437.14 L100.9 1439.73 L101.9 1438.95 L102.9 1438.98" fill="none" stroke="#fe1e0c" stroke-width="4.8" stroke-linejoin="round" stroke-linecap="butt" />
<path d="M103.3 1439.6 L107.5 1439.5 L110.3 1436.5 L111.5 1428 L112.3 1380 L114.3 1200 L115 1155 L116.3 1151.5" fill="none" stroke="#fe1e0c" stroke-width="3" stroke-linejoin="round" stroke-linecap="round" />
<path d="M116.3 1151.35 L117.3 1151.16 L118.3 1151.51 L119.3 1150.12 L120.3 1150.86 L121.3 1150.49 L122.3 1151.07 L123.3 1150.55 L124.3 1150.29 L125.3 1150.49 L126.3 1149.93 L127.3 1150.37 L128.3 1149.97 L129.3 1149.95 L130.3 1149.64 L131.3 1150.06 L132.3 1149.42 L133.3 1149.45 L134.3 1149.13 L135.3 1148.32 L136.3 1148.58 L137.3 1148.22 L138.3 1147.95 L139.3 1147.4 L140.3 1147.17 L141.3 1147.51 L142.3 1147.92 L143.3 1146.57 L144.3 1147 L145.3 1146.6 L146.3 1147.02 L147.3 1146.85 L148.3 1147.06 L149.3 1145.49 L150.3 1146.38 L151.3 1146.24 L152.3 1146.6 L153.3 1146.37 L154.3 1146.41 L155.3 1146.97 L156.3 1147.5 L157.3 1145.65 L158.3 1146.7 L159.3 1146.99 L160.3 1146.91 L161.3 1146.82 L162.3 1146.48 L163.3 1146.7 L164.3 1147.43 L165.3 1147.63 L166.3 1147.32 L167.3 1147.02 L168.3 1147.47 L169.3 1147.41 L170.3 1147.83 L171.3 1147.76 L172.3 1147.58 L173.3 1148.01 L174.3 1147.6 L175.3 1148.55 L176.3 1148.84 L177.3 1148.05 L178.3 1148.88 L179.3 1148.51 L180.3 1149.53 L181.3 1149.66 L182.3 1149.46 L183.3 1150.21 L184.3 1149.9 L185.3 1150.08 L186.3 1150.42 L187.3 1150.91 L188.3 1151.15 L189.3 1151.66 L190.3 1151.69 L191.3 1152.58 L192.3 1153.01 L193.3 1152.73 L194.3 1152.68 L195.3 1153.86 L196.3 1154.34 L197.3 1154.13 L198.3 1153.98 L199.3 1154.89 L200.3 1155.69 L201.3 1154.62 L202.3 1155.86 L203.3 1155.83 L204.3 1155.9 L205.3 1156.73 L206.3 1156.3 L207.3 1157.23 L208.3 1157.93 L209.3 1157.77 L210.3 1157.64 L211.3 1157.57 L212.3 1158.06 L213.3 1158.13 L214.3 1159.81 L215.3 1159.37 L216.3 1159.35 L217.3 1159.56 L218.3 1159.95 L219.3 1160.56 L220.3 1160.49 L221.3 1161.99 L222.3 1161.34 L223.3 1161.64 L224.3 1162.4 L225.3 1163.19 L226.3 1163.46 L227.3 1163.06 L228.3 1163.69 L229.3 1163.98 L230.3 1164.47 L231.3 1164.69 L232.3 1164.54 L233.3 1164.75 L234.3 1165.66 L235.3 1165.45 L236.3 1166.81 L237.3 1166.61 L238.3 1166.52 L239.3 1167.14 L240.3 1167.4 L241.3 1167.88 L242.3 1168.65 L243.3 1168.02 L244.3 1168.19 L245.3 1169.4 L246.3 1169.53 L247.3 1170 L248.3 1170.44 L249.3 1170.53 L250.3 1171.25 L251.3 1170.91 L252.3 1171.63 L253.3 1171.6 L254.3 1171.82 L255.3 1172.85 L256.3 1173.17 L257.3 1172.49 L258.3 1173.16 L259.3 1174.06 L260.3 1174.7 L261.3 1174.34 L262.3 1174.88 L263.3 1174.72 L264.3 1176.63 L265.3 1176.15 L266.3 1176.66 L267.3 1176.9 L268.3 1177.35 L269.3 1177.55 L270.3 1177.51 L271.3 1178.29 L272.3 1178.37 L273.3 1179.2 L274.3 1178.73 L275.3 1179.16 L276.3 1179.98 L277.3 1180.58 L278.3 1180.47 L279.3 1180.47 L280.3 1181.06 L281.3 1181.29 L282.3 1182.62 L283.3 1182.6 L284.3 1183.12 L285.3 1183.11 L286.3 1183.14 L287.3 1184.24 L288.3 1184.84 L289.3 1184.82 L290.3 1184.99 L291.3 1185.84 L292.3 1185.67 L293.3 1186.54 L294.3 1186.36 L295.3 1186.67 L296.3 1187.66 L297.3 1187.94 L298.3 1188.94 L299.3 1188.43 L300.3 1188.91 L301.3 1188.76 L302.3 1188.79 L303.3 1189.15 L304.3 1190.37 L305.3 1190.01 L306.3 1191.22 L307.3 1191.63 L308.3 1191.24 L309.3 1192.29 L310.3 1191.99 L311.3 1192.62 L312.3 1192.35 L313.3 1193.09 L314.3 1192.6 L315.3 1193.49 L316.3 1193.33 L317.3 1193.73 L318.3 1194.3 L319.3 1194.38 L320.3 1194.55 L321.3 1195.13 L322.3 1195.42 L323.3 1194.81 L324.3 1195.85 L325.3 1196.16 L326.3 1195.85 L327.3 1196.57 L328.3 1196.15 L329.3 1197.51 L330.3 1197.1 L331.3 1197.42 L332.3 1198.18 L333.3 1197.9 L334.3 1198.46 L335.3 1198.06 L336.3 1198.5 L337.3 1198.43 L338.3 1199.16 L339.3 1199.92 L340.3 1199.85 L341.3 1200.38 L342.3 1199.87 L343.3 1200.19 L344.3 1200.62 L345.3 1201.29 L346.3 1201.47 L347.3 1201.58 L348.3 1202.09 L349.3 1202.05 L350.3 1202.37 L351.3 1203.17 L352.3 1202.68 L353.3 1203.26 L354.3 1204.1 L355.3 1203.77 L356.3 1204.28 L357.3 1204.03 L358.3 1205.32 L359.3 1203.91 L360.3 1204.63 L361.3 1204.95 L362.3 1206.31 L363.3 1206.09 L364.3 1206.13 L365.3 1206.01 L366.3 1206.95 L367.3 1207.14 L368.3 1207.1 L369.3 1207.07 L370.3 1207.51 L371.3 1208.32 L372.3 1208.65 L373.3 1208.85 L374.3 1209.06 L375.3 1208.71 L376.3 1209.73 L377.3 1209.59 L378.3 1210.32 L379.3 1210.78 L380.3 1210.62 L381.3 1210.78 L382.3 1211.88 L383.3 1211.92 L384.3 1211.82 L385.3 1211.17 L386.3 1212.64 L387.3 1213.21 L388.3 1213.7 L389.3 1213.28 L390.3 1213.58 L391.3 1213.96 L392.3 1214.76 L393.3 1214.25 L394.3 1214.97 L395.3 1214.94 L396.3 1215.71 L397.3 1215.28 L398.3 1216.34 L399.3 1216.28 L400.3 1216.67 L401.3 1217.25 L402.3 1217.78 L403.3 1216.93 L404.3 1218.29 L405.3 1218.39 L406.3 1218.34 L407.3 1219.3 L408.3 1219.09 L409.3 1219.82 L410.3 1219.34 L411.3 1219.5 L412.3 1220.6 L413.3 1221.23 L414.3 1220.89 L415.3 1221.25 L416.3 1220.97 L417.3 1220.89 L418.3 1221.59 L419.3 1222.55 L420.3 1221.47 L421.3 1222.27 L422.3 1221.95 L423.3 1223 L424.3 1223.56 L425.3 1222.96 L426.3 1223.54 L427.3 1224.49 L428.3 1224.17 L429.3 1223.96 L430.3 1224.17 L431.3 1224.14 L432.3 1225.5 L433.3 1225.13 L434.3 1226.09 L435.3 1226.26 L436.3 1225.89 L437.3 1226.18 L438.3 1226.95 L439.3 1226.94 L440.3 1227.23 L441.3 1226.71 L442.3 1227.97 L443.3 1227.51 L444.3 1227.19 L445.3 1228.1 L446.3 1228.76 L447.3 1229.68 L448.3 1228.93 L449.3 1228.8 L450.3 1230.42 L451.3 1229.89 L452.3 1229.97 L453.3 1229.89 L454.3 1230.17 L455.3 1231.42 L456.3 1230.97 L457.3 1231.11 L458.3 1231.37 L459.3 1232.45 L460.3 1231.84 L461.3 1232.58 L462.3 1232.68 L463.3 1232.92 L464.3 1232.72 L465.3 1233.59 L466.3 1234.22 L467.3 1233.8 L468.3 1233.71 L469.3 1233.81 L470.3 1234.65 L471.3 1234.72 L472.3 1235.03 L473.3 1235.33 L474.3 1234.98 L475.3 1236.14 L476.3 1236.17 L477.3 1236.3 L478.3 1236.67 L479.3 1237.2 L480.3 1237.1 L481.3 1236.98 L482.3 1238.04 L483.3 1237.65 L484.3 1237.78 L485.3 1237.7 L486.3 1238.58 L487.3 1238.41 L488.3 1238.87 L489.3 1239.5" fill="none" stroke="#fe1e0c" stroke-width="5.7" stroke-linejoin="round" stroke-linecap="butt" />
<path d="M87.9 1477.04 L88.9 1475.38 L89.9 1476.18 L90.9 1474.59 L91.9 1474.99 L92.9 1474.43 L93.9 1475.59 L94.9 1475.58 L95.9 1474.38 L96.9 1474.8 L97.9 1474.14" fill="none" stroke="#3020f8" stroke-width="3.8" stroke-linejoin="round" stroke-linecap="butt" />
<path d="M98.7 1474.1 L101 1477 L103.3 1483 L104.7 1478 L107.1 1350 L112 1200 L115.7 1098.7" fill="none" stroke="#3020f8" stroke-width="3.2" stroke-linejoin="round" stroke-linecap="round" />
<path d="M115.7 1098.7 L117.57 1106.31 L119.57 1112.99 L121.57 1118.03 L123.57 1121.98 L125.57 1125.68 L127.57 1129.24 L129.57 1133.2 L131.57 1136.8 L133.57 1140.41 L135.57 1144.23 L137.57 1147.23 L139.57 1149.94 L141.57 1152.21 L143.57 1155.08 L145.57 1157.43 L147.57 1159.92 L149.57 1162.61 L151.57 1165.57 L153.57 1168.94 L155.57 1172.31 L157.57 1175.26 L159.57 1177.99 L161.57 1180.27 L163.57 1182.44 L165.57 1184.18 L167.57 1185.47 L169.57 1187.42 L171.57 1189.14 L173.57 1191.06 L175.57 1192.93 L177.57 1195.15 L179.57 1197.15 L181.57 1199.76 L183.57 1201.05 L185.57 1203.38 L187.57 1205.24 L189.57 1207.52 L191.57 1209.48 L193.57 1211.75 L195.57 1214.41 L197.57 1217.53 L199.57 1220.71 L201.57 1223.53 L203.57 1225.97 L205.57 1228.07 L207.57 1230.05 L209.57 1232.08 L211.57 1233.29 L213.57 1235.45 L215.57 1238 L217.57 1240.14 L219.57 1242.46 L221.57 1245.36 L223.57 1247.52 L225.57 1249.98 L227.57 1252.43 L229.57 1254.35 L231.57 1255.29 L233.57 1257.81 L235.57 1260.38 L237.57 1262.35 L239.57 1265.43 L241.57 1268.78 L243.57 1271.27 L245.57 1274.35 L247.57 1276.77 L249.57 1278.55 L251.57 1281.12 L253.57 1282.87 L255.57 1285.07 L257.57 1287.47 L259.57 1289.5 L261.57 1291.89 L263.57 1294.93 L265.57 1297.73 L267.57 1300.68 L269.57 1302.56 L271.57 1304.84 L273.57 1306.6 L275.57 1309.13 L277.57 1310.88 L279.57 1312.86 L281.57 1315.27 L283.57 1318.01 L285.57 1320.85 L287.57 1323.97 L289.57 1326.74 L291.57 1329.79 L293.57 1331.71 L295.57 1333.37 L297.57 1335.09 L299.57 1337.23 L301.57 1338.71 L303.57 1340.54 L305.57 1342.66 L307.57 1344.96 L309.57 1346.35 L311.57 1348.4 L313.57 1349.86 L315.57 1351.92 L317.57 1352.97 L319.57 1354.33 L321.57 1355.79 L323.57 1358.14 L325.57 1360.29 L327.57 1363.02 L329.57 1366.58 L331.57 1369.22 L333.57 1372.29 L335.57 1376.09 L337.57 1377.84 L339.57 1379.98 L341.57 1381.8 L343.57 1383.85 L345.57 1385.97 L347.57 1388.07 L349.57 1390.4 L351.57 1392.65 L353.57 1394.82 L355.57 1397.61 L357.57 1399.98 L359.57 1401.61 L361.57 1402.82 L363.57 1404.44 L365.57 1405.54 L367.57 1407.21 L369.57 1408.77 L371.57 1411.12 L373.57 1413.53 L375.57 1415.69 L377.57 1418.02 L379.57 1419.97 L381.57 1421.14 L383.57 1421.75 L385.57 1422.69 L387.57 1423.98 L389.57 1425.49 L391.57 1427.81 L393.57 1430.3 L395.57 1432.89 L397.57 1435.64 L399.57 1438.25 L401.57 1440.61 L403.57 1442.61 L405.57 1445.14 L407.57 1446.78 L409.57 1448.15 L411.57 1450.15 L413.57 1452.51 L415.57 1455.21 L417.57 1458.26 L419.57 1461.03 L421.57 1463.7 L423.57 1465.98 L425.57 1467.81 L427.57 1469.15 L429.57 1470.22 L431.57 1471.22 L433.57 1472.06 L435.57 1473.95 L437.57 1476.17 L439.57 1477.46 L441.57 1479.35 L443.57 1481.53 L445.57 1482.82 L447.57 1483.92 L449.57 1485.44" fill="none" stroke="#3020f8" stroke-width="4.8" stroke-linejoin="round" stroke-linecap="round" />
<text x="19.73" y="1395.8" font-size="40" fill="#000" textLength="49.57" lengthAdjust="spacingAndGlyphs" >Ca</text>
<text x="72.01" y="1375.2" font-size="18" fill="#000" textLength="22.46" lengthAdjust="spacingAndGlyphs" >2+</text>
<line x1="73.5" y1="1402.3" x2="77.65" y2="1406.25" stroke="#000" stroke-width="2.2" stroke-linecap="butt"/>
<polygon points="97.7,1424.7 69.7,1414.4 85.6,1398.1" fill="#000"/>
<path d="M385.8 1043.6 V1142 H459.6" fill="none" stroke="#2a2a2a" stroke-width="3.6"/>
<text x="302.76" y="1090.4" font-size="41" fill="#000" textLength="67.62" lengthAdjust="spacingAndGlyphs" >250</text>
<text x="315.32" y="1126.4" font-size="41" fill="#000" textLength="56.2" lengthAdjust="spacingAndGlyphs" >AU</text>
<text x="394.86" y="1127.2" font-size="41" fill="#000" textLength="77.42" lengthAdjust="spacingAndGlyphs" >40 s</text>
<line x1="77" y1="1541.7" x2="132.3" y2="1541.7" stroke="#000" stroke-width="6" stroke-linecap="butt"/>
<line x1="77" y1="1597.1" x2="132.3" y2="1597.1" stroke="#fe1e0c" stroke-width="5.8" stroke-linecap="butt"/>
<line x1="77.5" y1="1654.9" x2="132.7" y2="1654.9" stroke="#3020f8" stroke-width="5.6" stroke-linecap="butt"/>
<text x="158.09" y="1559.9" font-size="49.5" fill="#000" textLength="274.16" lengthAdjust="spacingAndGlyphs" >No TMEM65</text>
<text x="160.11" y="1614.7" font-size="49.5" fill="#000" textLength="196.73" lengthAdjust="spacingAndGlyphs" >TMEM65</text>
<text x="158.7" y="1672.8" font-size="49.5" fill="#000" textLength="328.66" lengthAdjust="spacingAndGlyphs" >hME+TMEM65</text>
<rect x="756.6" y="1459" width="51.8" height="165.3" fill="#d6fdd6" stroke="#000" stroke-width="2.6"/>
<rect x="837" y="1434.1" width="52.3" height="190.2" fill="#d6fdd6" stroke="#000" stroke-width="2.6"/>
<rect x="918.2" y="1320.1" width="51.5" height="304.2" fill="#d6fdd6" stroke="#000" stroke-width="2.6"/>
<path d="M707.1 1085.3 H728.5 V1624.3" fill="none" stroke="#000" stroke-width="2.6"/>
<line x1="707.1" y1="1355" x2="728.5" y2="1355" stroke="#000" stroke-width="2.6" stroke-linecap="butt"/>
<line x1="707.1" y1="1624.3" x2="997.4" y2="1624.3" stroke="#000" stroke-width="2.6" stroke-linecap="butt"/>
<line x1="782.6" y1="1425.5" x2="782.6" y2="1490.7" stroke="#000" stroke-width="2.6" stroke-linecap="butt"/>
<line x1="767.8" y1="1425.5" x2="797.4" y2="1425.5" stroke="#000" stroke-width="2.6" stroke-linecap="butt"/>
<line x1="767.8" y1="1490.7" x2="797.4" y2="1490.7" stroke="#000" stroke-width="2.6" stroke-linecap="butt"/>
<line x1="863.1" y1="1406.3" x2="863.1" y2="1460.2" stroke="#000" stroke-width="2.6" stroke-linecap="butt"/>
<line x1="848.4" y1="1406.3" x2="877.8" y2="1406.3" stroke="#000" stroke-width="2.6" stroke-linecap="butt"/>
<line x1="848.4" y1="1460.2" x2="877.8" y2="1460.2" stroke="#000" stroke-width="2.6" stroke-linecap="butt"/>
<line x1="944" y1="1300" x2="944" y2="1337" stroke="#000" stroke-width="2.6" stroke-linecap="butt"/>
<line x1="929.3" y1="1300" x2="958.7" y2="1300" stroke="#000" stroke-width="2.6" stroke-linecap="butt"/>
<line x1="929.3" y1="1337" x2="958.7" y2="1337" stroke="#000" stroke-width="2.6" stroke-linecap="butt"/>
<circle cx="782.5" cy="1382.5" r="5.6" fill="#000"/>
<circle cx="771.4" cy="1420.2" r="5.6" fill="#000"/>
<circle cx="793.3" cy="1414.9" r="5.6" fill="#000"/>
<circle cx="782.5" cy="1527.7" r="5.6" fill="#000"/>
<circle cx="782.5" cy="1544.3" r="5.6" fill="#000"/>
<circle cx="863.4" cy="1328.4" r="5.6" fill="#000"/>
<circle cx="852.5" cy="1415.6" r="5.6" fill="#000"/>
<circle cx="873.8" cy="1415.6" r="5.6" fill="#000"/>
<circle cx="863.4" cy="1437.1" r="5.6" fill="#000"/>
<circle cx="863.4" cy="1481" r="5.6" fill="#000"/>
<circle cx="863.4" cy="1522.6" r="5.6" fill="#000"/>
<circle cx="944.3" cy="1230.8" r="5.6" fill="#000"/>
<circle cx="943.8" cy="1366.3" r="5.6" fill="#000"/>
<circle cx="922.3" cy="1331.2" r="5.6" fill="#000"/>
<circle cx="943.8" cy="1332.4" r="5.6" fill="#000"/>
<circle cx="965.1" cy="1331.7" r="5.6" fill="#000"/>
<circle cx="965.5" cy="1320.3" r="5.6" fill="#000"/>
<line x1="752" y1="1650.4" x2="806.7" y2="1650.4" stroke="#000" stroke-width="8.5" stroke-linecap="butt"/>
<line x1="832.2" y1="1650.4" x2="887" y2="1650.4" stroke="#fe1e0c" stroke-width="8.5" stroke-linecap="butt"/>
<line x1="913.8" y1="1650.4" x2="968.6" y2="1650.4" stroke="#3020f8" stroke-width="8.5" stroke-linecap="butt"/>
<text x="676.74" y="1100" font-size="42.5" fill="#000" textLength="23.62" lengthAdjust="spacingAndGlyphs" >6</text>
<text x="677.33" y="1369.5" font-size="42.5" fill="#000" textLength="22.99" lengthAdjust="spacingAndGlyphs" >3</text>
<text x="677.43" y="1638.6" font-size="42.5" fill="#000" textLength="22.34" lengthAdjust="spacingAndGlyphs" >0</text>
<text x="767.12" y="1097.8" font-size="40" fill="#222222" textLength="212.94" lengthAdjust="spacing" stroke="#fefefe" stroke-width="0.4">p = 5.8 x 10</text>
<text x="979.91" y="1077.8" font-size="20" fill="#222222" textLength="18.57" lengthAdjust="spacing" stroke="#fefefe" stroke-width="0.4">-3</text>
<text x="750.72" y="1176.7" font-size="40" fill="#222222" textLength="148.09" lengthAdjust="spacing" stroke="#fefefe" stroke-width="0.4">p = 0.57</text>
<path d="M864.2 1133.5 V1113.2 H944.2 V1133.5" fill="none" stroke="#111" stroke-width="2.3"/>
<path d="M780.9 1211.7 V1191.8 H863 V1211.7" fill="none" stroke="#111" stroke-width="2.3"/>
<text transform="translate(0 0) rotate(-90)" x="-1474.37" y="585.5" font-size="50.5" fill="#000" textLength="238.61" lengthAdjust="spacingAndGlyphs" >Normalized</text>
<text transform="translate(0 0) rotate(-90)" x="-1578.47" y="651.2" font-size="50.5" fill="#000" textLength="59.57" lengthAdjust="spacingAndGlyphs" >Ca</text>
<text transform="translate(0 0) rotate(-90)" x="-1518.28" y="631.7" font-size="34" fill="#000" textLength="40.43" lengthAdjust="spacingAndGlyphs" >2+</text>
<text transform="translate(0 0) rotate(-90)" x="-1465.16" y="651.2" font-size="50.5" fill="#000" textLength="287.96" lengthAdjust="spacingAndGlyphs" >uptake rate (s</text>
<text transform="translate(0 0) rotate(-90)" x="-1177.95" y="631.7" font-size="34" fill="#000" textLength="27.04" lengthAdjust="spacingAndGlyphs" >-1</text>
<text transform="translate(0 0) rotate(-90)" x="-1144.15" y="651.2" font-size="50.5" fill="#000" textLength="14.19" lengthAdjust="spacingAndGlyphs" >)</text>
<path d="M1151.6 1522.3 L1153.6 1521.68 L1155.6 1521.79 L1157.6 1521.11 L1159.6 1522.36 L1161.6 1522.63 L1163.6 1522.99 L1165.6 1523.78 L1167.6 1524.27 L1171.5 1522.5 L1173.5 1527 L1175.5 1537.2" fill="none" stroke="#fe1e0c" stroke-width="8" stroke-linejoin="round" stroke-linecap="butt" />
<path d="M1173.5 1527 L1175.5 1537.2 L1178 1537.5 L1182.5 1532 L1185 1535 L1188 1538.8 L1192 1535.8 L1196 1538.6 L1200 1540.8 L1206 1541.8 L1210 1544 L1213 1546.25 L1215 1547.12 L1217 1548.15 L1219 1549.71 L1221 1549.99 L1223 1548.69 L1225 1548.82 L1227 1550.12 L1229 1550.7 L1231 1549.58 L1233 1549.12 L1235 1550.37 L1237 1549.38 L1239 1550.11 L1241 1550.68 L1243 1550.04 L1245 1549.65 L1247 1550.11 L1249 1549.15 L1251 1549.48 L1253 1549.2 L1255 1549.46 L1257 1549.26 L1259 1549.47 L1261 1549.33 L1263 1549.66 L1265 1549.64 L1267 1549.81 L1269 1550.58 L1271 1548.52 L1273 1550.51 L1275 1549.16 L1277 1547.91" fill="none" stroke="#fe1e0c" stroke-width="6.2" stroke-linejoin="round" stroke-linecap="butt" />
<path d="M1278 1548.5 L1281.3 1545 L1282.2 1500 L1287.8 1200 L1288.6 1177.5 L1291.5 1183 L1296 1193 L1301.4 1200.6" fill="none" stroke="#fe1e0c" stroke-width="3.6" stroke-linejoin="round" stroke-linecap="round" />
<path d="M1301.4 1200.6 L1304 1201.28 L1306.5 1201.76 L1309 1203.17 L1311.5 1200.54 L1314 1202.34 L1316.5 1202.35 L1319 1200.14 L1321.5 1200.93 L1324 1203.39 L1326.5 1203.65 L1329 1204.3 L1331.5 1203.72 L1334 1203.68 L1336.5 1203.47 L1339 1205.02 L1341.5 1202.54 L1344 1203.68 L1346.5 1204.59 L1349 1202.27 L1351.5 1206.25 L1354 1203.74 L1356.5 1204.91 L1359 1208.03 L1361.5 1204.38 L1364 1204.92 L1366.5 1207.77 L1369 1204.46 L1371.5 1205.44 L1374 1206.8 L1376.5 1206.86 L1379 1207.17 L1381.5 1207.01 L1384 1208.41 L1386.5 1208.11 L1389 1207.69 L1391.5 1206.16 L1394 1206.26 L1396.5 1204.84 L1399 1208.34 L1401.5 1205.21 L1404 1208.85 L1406.5 1210.24 L1409 1206.58 L1411.5 1207.2 L1414 1207.6 L1416.5 1209.43 L1419 1207.36 L1421.5 1208.44 L1424 1208.06 L1426.5 1208.54 L1429 1210.68 L1431.5 1207.87 L1434 1209.35 L1436.5 1209.74 L1439 1210.62 L1441.5 1207.86 L1444 1210.95 L1446.5 1210.07 L1449 1210.64 L1451.5 1209.59 L1454 1207.37 L1456.5 1208.66 L1459 1210.56 L1461.5 1209.55 L1464 1209.44 L1466.5 1211.83 L1469 1212.36 L1471.5 1209.43 L1474 1211.95 L1476.5 1206.8 L1479 1206.69 L1481.5 1210.44 L1484 1208.93 L1486.5 1209.98 L1489 1209.85 L1491.5 1209.03 L1494 1209.99 L1496.5 1209.25 L1499 1207.02" fill="none" stroke="#fe1e0c" stroke-width="6.4" stroke-linejoin="round" stroke-linecap="butt" />
<path d="M1151.6 1544.43 L1153.6 1544.39 L1155.6 1545.35 L1157.6 1543.54 L1159.6 1544.21 L1161.6 1543.92 L1163.6 1544.06 L1165.6 1545.11 L1167.6 1544.32 L1169.6 1543.79 L1171.6 1544.13 L1173.6 1544.47 L1175.6 1543.39 L1177.6 1543.8 L1179.6 1544.86 L1181.6 1544.42 L1183.6 1543.86 L1185.6 1543.57 L1187.6 1543.74 L1189.6 1542.88 L1191.6 1544.35 L1193.6 1543.96 L1195.6 1543.81 L1197.6 1542.93 L1199.6 1543.25 L1201.6 1543.96 L1203.6 1543.78 L1205.6 1543.3 L1207.5 1544 L1211 1569.7 L1213.5 1546 L1216 1545.3 L1218 1545.54 L1220 1544.55 L1222 1544.61 L1224 1544.39 L1226 1544.19 L1228 1545.34 L1230 1545.15 L1232 1545.02 L1234 1544.09 L1236 1544.15 L1238 1544.71 L1240 1544.48 L1242 1544.78 L1244 1544.26 L1246 1545.05 L1248 1545.72 L1250 1545.54 L1252 1545.56 L1254 1544.61 L1256 1545.1 L1258 1544.3 L1260 1545.05 L1262 1544.25 L1264 1544.16 L1266 1544.05 L1268 1544.83 L1270 1544.55 L1272 1544.48 L1274 1543.66 L1276 1544.4" fill="none" stroke="#000" stroke-width="8.2" stroke-linejoin="round" stroke-linecap="butt" />
<path d="M1277.6 1544.3 L1279.4 1541.8 L1285.8 1192 L1287.6 1186 L1293 1189 L1299.1 1194.5" fill="none" stroke="#000" stroke-width="5" stroke-linejoin="round" stroke-linecap="round" />
<path d="M1299.1 1194.5 L1303 1195.2 L1305.5 1198.36 L1308 1197.44 L1310.5 1198.27 L1313 1198.5 L1315.5 1197.12 L1318 1197.26 L1320.5 1198.42 L1323 1199.74 L1325.5 1197.34 L1328 1197.66 L1330.5 1198.2 L1333 1196.67 L1335.5 1196.61 L1338 1197.72 L1340.5 1198 L1343 1197.63 L1345.5 1199.32 L1348 1197.74 L1350.5 1198.16 L1353 1199.22 L1355.5 1199.27 L1358 1196.25 L1360.5 1197.29 L1363 1198.67 L1365.5 1196.44 L1368 1196.92 L1370.5 1196.64 L1373 1196.64 L1375.5 1196.91 L1378 1198.15 L1380.5 1199.19 L1383 1199.49 L1385.5 1198.19 L1388 1196.46 L1390.5 1198.25 L1393 1198.05 L1395.5 1198.74 L1398 1198.37 L1400.5 1196.93 L1403 1198.98 L1405.5 1196.8 L1408 1198.1 L1410.5 1199.07 L1413 1199.16 L1415.5 1200.32 L1418 1196.84 L1420.5 1199.34 L1423 1199.71 L1425.5 1198.87 L1428 1199.8 L1430.5 1198.31 L1433 1199.96 L1435.5 1199.92 L1438 1198.62 L1440.5 1198.97 L1443 1199.47 L1445.5 1199.12 L1448 1200.72 L1450.5 1200 L1453 1201.1 L1455.5 1201.04 L1458 1200.11 L1460.5 1199.95 L1463 1199.34 L1465.5 1199.53 L1468 1199.61 L1470.5 1200.71 L1473 1199.67 L1475.5 1200.6 L1478 1200.77 L1480.5 1200.22 L1483 1200.57 L1485.5 1202.11 L1488 1202.33 L1490.5 1200.24 L1493 1200.84 L1495.5 1200.75" fill="none" stroke="#000" stroke-width="8" stroke-linejoin="round" stroke-linecap="butt" />
<path d="M1182.1 1067.8 V1139.1 H1283.5" fill="none" stroke="#2a2a2a" stroke-width="3.6"/>
<text x="1101.61" y="1101" font-size="40.5" fill="#000" textLength="69.31" lengthAdjust="spacingAndGlyphs" >250</text>
<text x="1115.02" y="1137.1" font-size="40.5" fill="#000" textLength="55.99" lengthAdjust="spacingAndGlyphs" >AU</text>
<text x="1192.85" y="1128.3" font-size="40.5" fill="#000" textLength="76.82" lengthAdjust="spacingAndGlyphs" >30 s</text>
<text x="1139.24" y="1495.4" font-size="41" fill="#000" textLength="120.55" lengthAdjust="spacingAndGlyphs" >Ru360</text>
<line x1="1194.8" y1="1503.1" x2="1197.05" y2="1508.95" stroke="#000" stroke-width="2.2" stroke-linecap="butt"/>
<polygon points="1207,1534.6 1185.8,1513 1208.3,1504.9" fill="#000"/>
<text x="1308.93" y="1519.8" font-size="40.5" fill="#000" textLength="49.67" lengthAdjust="spacingAndGlyphs" >Ca</text>
<text x="1360.26" y="1498.6" font-size="18.5" fill="#000" textLength="23.67" lengthAdjust="spacingAndGlyphs" >2+</text>
<line x1="1306.4" y1="1522" x2="1303.7" y2="1525.8" stroke="#000" stroke-width="2.2" stroke-linecap="butt"/>
<polygon points="1285.7,1546.3 1294.7,1518.4 1312.7,1533.2" fill="#000"/>
<line x1="1144.8" y1="1617.1" x2="1199.6" y2="1617.1" stroke="#000" stroke-width="6.5" stroke-linecap="butt"/>
<line x1="1144.8" y1="1671.8" x2="1199.6" y2="1671.8" stroke="#fe1e0c" stroke-width="6.5" stroke-linecap="butt"/>
<text x="1225.9" y="1635.1" font-size="50" fill="#000" textLength="273.65" lengthAdjust="spacingAndGlyphs" >No TMEM65</text>
<text x="1227.61" y="1689.9" font-size="50" fill="#000" textLength="196.73" lengthAdjust="spacingAndGlyphs" >TMEM65</text>
</svg>
</body></html>
